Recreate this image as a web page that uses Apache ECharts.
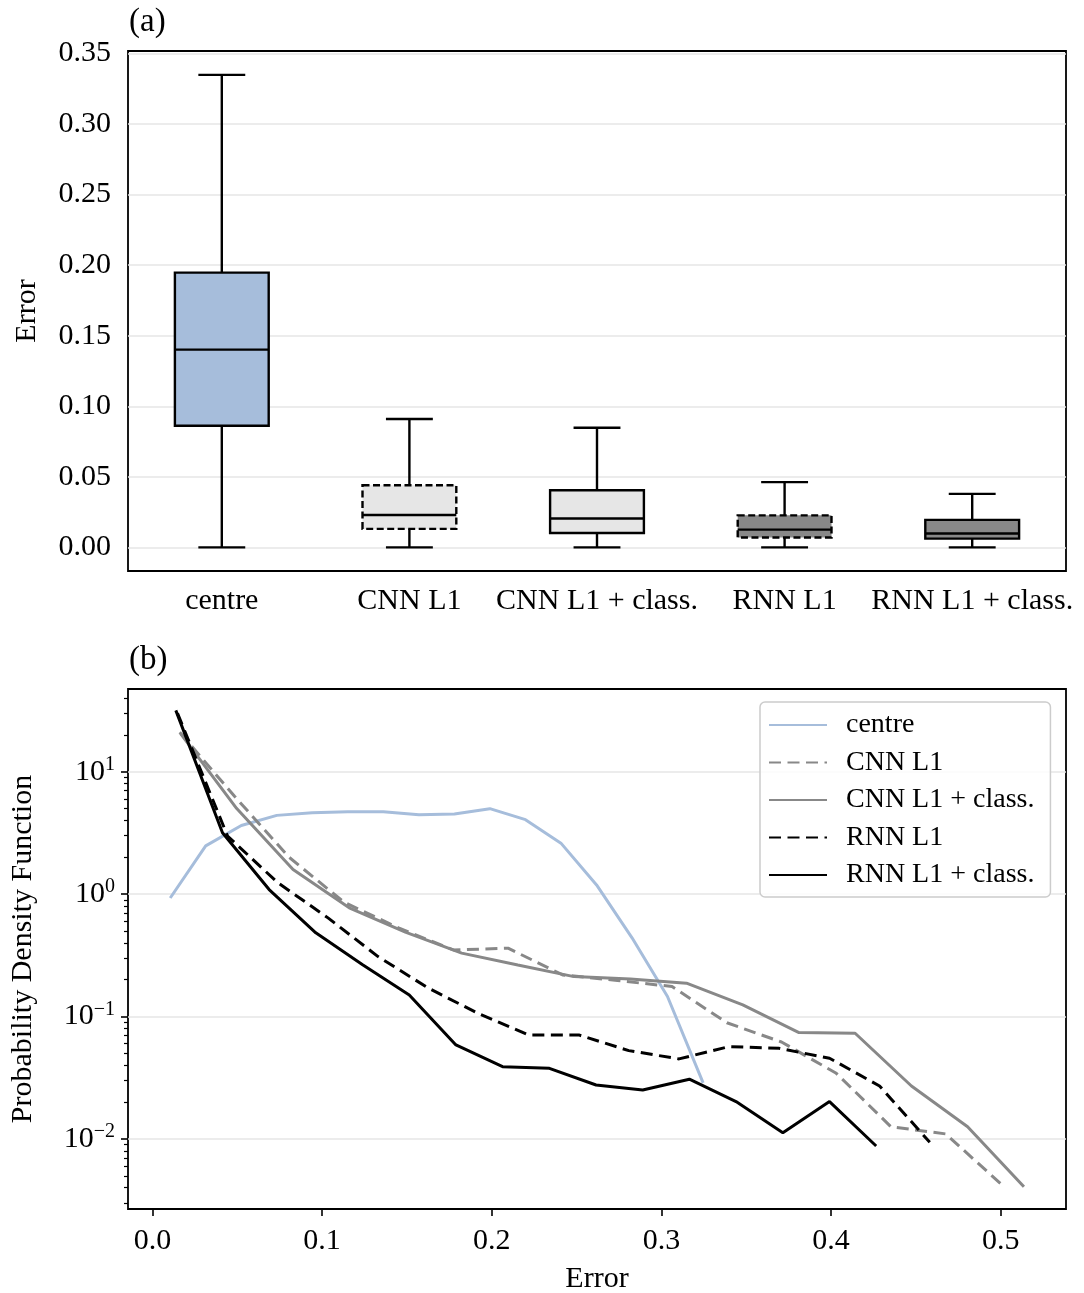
<!DOCTYPE html>
<html>
<head>
<meta charset="utf-8">
<title>Error box plot and PDF</title>
<script src="https://cdn.jsdelivr.net/npm/echarts@6/dist/echarts.min.js"></script>
<style>
  html, body { margin: 0; padding: 0; background: #fff; }
  #chart { width: 1084px; height: 1293px; }
</style>
</head>
<body>
<div id="chart"></div>
<script>
/* ---------- (a) box plot data ---------- */
const models = ['centre', 'CNN L1', 'CNN L1 + class.', 'RNN L1', 'RNN L1 + class.'];
const boxMin = [0, 0, 0, 0, 0];
const boxQ1 = [0.0862, 0.0131, 0.0102, 0.0070, 0.0062];
const boxMedian = [0.1401, 0.0229, 0.0205, 0.0126, 0.0098];
const boxQ3 = [0.1947, 0.0440, 0.0405, 0.0227, 0.0195];
const boxMax = [0.3348, 0.0910, 0.0848, 0.0462, 0.0379];
const boxTicks = [0, 0.05, 0.10, 0.15, 0.20, 0.25, 0.30, 0.35];

/* ---------- (b) PDF data (bin centres) ---------- */
const centreX = [0.0105, 0.0314, 0.0524, 0.0733, 0.0942, 0.1152, 0.1361, 0.1571,
  0.1780, 0.1989, 0.2199, 0.2408, 0.2618, 0.2827, 0.3036, 0.3246];
const centreY = [0.93, 2.48, 3.64, 4.40, 4.62, 4.71, 4.71, 4.45,
  4.51, 4.99, 4.06, 2.61, 1.19, 0.44, 0.146, 0.0287];

const cnnX = [0.0161, 0.0484, 0.0806, 0.1129, 0.1451, 0.1774, 0.2096, 0.2418,
  0.2741, 0.3063, 0.3386, 0.3708, 0.4031, 0.4353, 0.4676, 0.4998];
const cnnY = [21, 6.3, 2.0, 0.86, 0.53, 0.35, 0.362, 0.219,
  0.197, 0.176, 0.089, 0.062, 0.0344, 0.0126, 0.011, 0.00434];

const cnnClassX = [0.0166, 0.0497, 0.0829, 0.1160, 0.1491, 0.1823, 0.2154, 0.2485,
  0.2817, 0.3148, 0.3480, 0.3811, 0.4142, 0.4474, 0.4805, 0.5137];
const cnnClassY = [20.5, 5.0, 1.59, 0.773, 0.49, 0.33, 0.264, 0.212,
  0.203, 0.1875, 0.1245, 0.074, 0.0731, 0.0271, 0.0126, 0.00407];

const rnnX = [0.0148, 0.0443, 0.0739, 0.1035, 0.1330, 0.1626, 0.1921, 0.2217,
  0.2513, 0.2808, 0.3104, 0.3399, 0.3695, 0.3991, 0.4286, 0.4582];
const rnnY = [30, 2.98, 1.24, 0.64, 0.309, 0.171, 0.106, 0.0708,
  0.0708, 0.0527, 0.0451, 0.0569, 0.055, 0.0457, 0.0271, 0.0094];

const rnnClassX = [0.0138, 0.0413, 0.0688, 0.0963, 0.1239, 0.1514, 0.1789, 0.2064,
  0.2340, 0.2615, 0.2890, 0.3165, 0.3440, 0.3716, 0.3991, 0.4266];
const rnnClassY = [31.7, 3.17, 1.09, 0.483, 0.265, 0.150, 0.0586, 0.039,
  0.0378, 0.0276, 0.0251, 0.0308, 0.0202, 0.01127, 0.0202, 0.00877];

const pdfXTicks = [0, 0.1, 0.2, 0.3, 0.4, 0.5];
const pdfMajor = [0.01, 0.1, 1, 10];
const pdfMinor = [0.003, 0.004, 0.005, 0.006, 0.007, 0.008, 0.009,
  0.02, 0.03, 0.04, 0.05, 0.06, 0.07, 0.08, 0.09,
  0.2, 0.3, 0.4, 0.5, 0.6, 0.7, 0.8, 0.9,
  2, 3, 4, 5, 6, 7, 8, 9, 20, 30, 40];

/* ---------- styles ---------- */
const FONT = '"Liberation Serif", "DejaVu Serif", serif';
const BLUE = '#a6bddb';
const GREY = '#888888';
const boxFill = [BLUE, '#e6e6e6', '#e6e6e6', GREY, GREY];
const boxDashed = [false, true, false, true, false];
const txt = { fontFamily: FONT, fontSize: 30, color: '#000' };
const tickStyle = { color: '#000', width: 1.6 };
const gridLine = { color: '#e6e6e6', width: 1.6 };
const PDF_MIN = 0.00268;
const PDF_MAX = 47.4;

/** box with half-width caps, like matplotlib */
function renderBox(params, api) {
  const i = params.dataIndex;
  const cat = api.value(0);
  const band = api.size([1, 0])[0];
  const half = band * 0.25;
  const cap = band * 0.125;
  const pMin = api.coord([cat, api.value(1)]);
  const pQ1 = api.coord([cat, api.value(2)]);
  const pMed = api.coord([cat, api.value(3)]);
  const pQ3 = api.coord([cat, api.value(4)]);
  const pMax = api.coord([cat, api.value(5)]);
  const x = pMin[0];
  const ln = { stroke: '#000', lineWidth: 2.4 };
  return {
    type: 'group',
    children: [
      { type: 'line', shape: { x1: x, y1: pMin[1], x2: x, y2: pQ1[1] }, style: ln },
      { type: 'line', shape: { x1: x, y1: pQ3[1], x2: x, y2: pMax[1] }, style: ln },
      { type: 'line', shape: { x1: x - cap, y1: pMin[1], x2: x + cap, y2: pMin[1] }, style: ln },
      { type: 'line', shape: { x1: x - cap, y1: pMax[1], x2: x + cap, y2: pMax[1] }, style: ln },
      {
        type: 'rect',
        shape: { x: x - half, y: pQ3[1], width: 2 * half, height: pQ1[1] - pQ3[1] },
        style: { fill: boxFill[i], stroke: '#000', lineWidth: 2.4, lineDash: boxDashed[i] ? [7, 3.5] : null }
      },
      { type: 'line', shape: { x1: x - half, y1: pMed[1], x2: x + half, y2: pMed[1] }, style: ln }
    ]
  };
}

function pairs(xs, ys) {
  return xs.map((x, i) => [x, ys[i]]);
}

function pdfLine(name, xs, ys, color, dashed) {
  return {
    name: name,
    type: 'line',
    xAxisIndex: 1,
    yAxisIndex: 1,
    data: pairs(xs, ys),
    symbol: 'none',
    showSymbol: false,
    lineStyle: { color: color, width: 3, type: dashed ? [12, 6.5] : 'solid' },
    itemStyle: { color: color }
  };
}

function logLabel(v) {
  const e = Math.round(Math.log10(v));
  return '{b|10}{s|' + (e < 0 ? '\u2212' + (-e) : e) + '}';
}

/** extra log axis used only to draw ticks */
function tickAxis(values, len, width) {
  return {
    gridIndex: 1,
    type: 'log',
    logBase: 10,
    position: 'left',
    min: PDF_MIN,
    max: PDF_MAX,
    axisLine: { show: false },
    axisTick: { inside: false, length: len, customValues: values, lineStyle: { color: '#000', width: width } },
    axisLabel: { show: false },
    splitLine: { show: false }
  };
}

const chart = echarts.init(document.getElementById('chart'), null, { renderer: 'canvas' });

chart.setOption({
  animation: false,
  backgroundColor: '#fff',
  title: [
    { text: '(a)', left: 129, top: 6, padding: 0, textStyle: Object.assign({ fontWeight: 'normal' }, txt, { fontSize: 33 }) },
    { text: '(b)', left: 129, top: 644, padding: 0, textStyle: Object.assign({ fontWeight: 'normal' }, txt, { fontSize: 33 }) }
  ],
  grid: [
    { left: 128, top: 51, right: 18, height: 520, show: true, borderColor: '#000', borderWidth: 1.8, outerBoundsMode: 'none' },
    { left: 128, top: 689, right: 18, height: 520, show: true, borderColor: '#000', borderWidth: 1.8, outerBoundsMode: 'none' }
  ],
  legend: {
    data: ['centre', 'CNN L1', 'CNN L1 + class.', 'RNN L1', 'RNN L1 + class.'],
    orient: 'vertical',
    left: 760,
    top: 702,
    itemWidth: 58,
    itemHeight: 14,
    itemGap: 9.5,
    padding: [9, 16, 8, 8],
    borderColor: '#cccccc',
    borderWidth: 1.5,
    borderRadius: 5,
    backgroundColor: 'rgba(255,255,255,0.85)',
    itemStyle: { opacity: 0, borderWidth: 0 },
    textStyle: { fontFamily: FONT, fontSize: 28, color: '#000', lineHeight: 28, padding: [0, 0, 0, 14] }
  },
  xAxis: [
    {
      gridIndex: 0,
      type: 'category',
      data: models,
      boundaryGap: true,
      axisLine: { show: false, onZero: false },
      axisTick: { alignWithLabel: true, inside: false, length: 7, lineStyle: tickStyle },
      axisLabel: Object.assign({ interval: 0, margin: 15 }, txt),
      splitLine: { show: false }
    },
    {
      gridIndex: 1,
      type: 'value',
      min: -0.01439,
      max: 0.5385,
      axisLine: { show: false, onZero: false },
      axisTick: { inside: false, length: 7, customValues: pdfXTicks, lineStyle: tickStyle },
      axisLabel: Object.assign({ customValues: pdfXTicks, margin: 17, formatter: v => v.toFixed(1) }, txt),
      splitLine: { show: false },
      name: 'Error',
      nameLocation: 'middle',
      nameGap: 55,
      nameTextStyle: txt
    }
  ],
  yAxis: [
    {
      gridIndex: 0,
      type: 'value',
      position: 'left',
      min: -0.01675,
      max: 0.35175,
      axisLine: { show: false },
      axisTick: { inside: false, length: 7, customValues: boxTicks, lineStyle: tickStyle },
      axisLabel: Object.assign({ customValues: boxTicks, margin: 17, formatter: v => v.toFixed(2) }, txt),
      splitLine: { show: true, lineStyle: gridLine },
      name: 'Error',
      nameLocation: 'middle',
      nameGap: 86,
      nameTextStyle: txt
    },
    {
      gridIndex: 1,
      type: 'log',
      logBase: 10,
      position: 'left',
      min: PDF_MIN,
      max: PDF_MAX,
      axisLine: { show: false },
      axisTick: { show: false, customValues: pdfMajor },
      axisLabel: {
        customValues: pdfMajor,
        margin: 13,
        formatter: logLabel,
        rich: {
          b: { fontFamily: FONT, fontSize: 30, lineHeight: 34, color: '#000' },
          s: { fontFamily: FONT, fontSize: 20, lineHeight: 17, verticalAlign: 'top', color: '#000' }
        }
      },
      splitLine: { show: true, lineStyle: gridLine },
      name: 'Probability Density Function',
      nameLocation: 'middle',
      nameGap: 90,
      nameTextStyle: txt
    },
    tickAxis(pdfMinor, 4, 1.2),
    tickAxis(pdfMajor, 7, 1.6)
  ],
  series: [
    {
      name: 'boxes',
      type: 'custom',
      xAxisIndex: 0,
      yAxisIndex: 0,
      renderItem: renderBox,
      encode: { x: 0, y: [1, 2, 3, 4, 5] },
      data: models.map((m, i) => [i, boxMin[i], boxQ1[i], boxMedian[i], boxQ3[i], boxMax[i]])
    },
    pdfLine('centre', centreX, centreY, BLUE, false),
    pdfLine('CNN L1', cnnX, cnnY, GREY, true),
    pdfLine('CNN L1 + class.', cnnClassX, cnnClassY, GREY, false),
    pdfLine('RNN L1', rnnX, rnnY, '#000', true),
    pdfLine('RNN L1 + class.', rnnClassX, rnnClassY, '#000', false)
  ]
});

window.addEventListener('resize', () => chart.resize());
</script>
</body>
</html>
